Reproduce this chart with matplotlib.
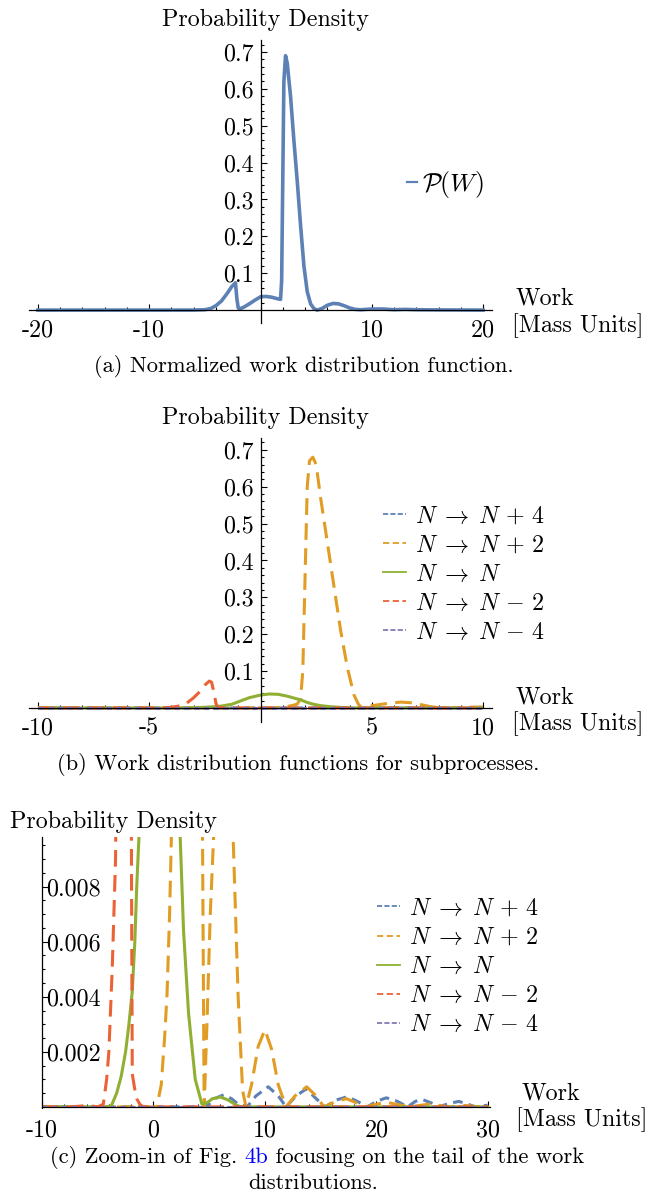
import matplotlib
matplotlib.use("Agg")
import matplotlib.pyplot as plt
from matplotlib.lines import Line2D
from matplotlib.patches import Rectangle

plt.rcParams['font.family'] = 'cmr10'
plt.rcParams['mathtext.fontset'] = 'cm'
plt.rcParams['axes.unicode_minus'] = False
plt.rcParams['lines.scale_dashes'] = False

# ---- data ----
# (a) total work distribution P(W)
w_tot = [-20, -6, -5, -4.5, -4, -3.5, -3, -2.6, -2.25, -2.12, -2.0, -1.8, -1.5, -1, -0.5, 0, 0.5,
         1, 1.5, 1.8, 1.9, 2.0, 2.1, 2.25, 2.4, 2.7, 3.0, 3.3, 3.6, 3.9, 4.2, 4.5, 4.8, 5.1,
         5.5, 6.0, 6.5, 7.0, 7.5, 8.0, 8.5, 9.0, 9.5, 10.0, 11.0, 12.0, 13.0, 14.0, 16.0, 18.0, 20.0]
p_tot = [0, 0, 0.001, 0.004, 0.012, 0.025, 0.045, 0.063, 0.074, 0.03, 0.006, 0.004, 0.008, 0.017,
         0.027, 0.036, 0.037, 0.035, 0.031, 0.029, 0.08, 0.35, 0.62, 0.69, 0.67, 0.58, 0.46, 0.35,
         0.23, 0.12, 0.05, 0.017, 0.004, 0.0, 0.004, 0.013, 0.018, 0.017, 0.012, 0.006, 0.002,
         0.001, 0.002, 0.003, 0.003, 0.001, 0.002, 0.001, 0.0005, 0.0003, 0]

# (b), (c) subprocesses
w_np4 = [-10, 4.6, 5.0, 5.5, 6.3, 7.0, 7.6, 8.4, 9.2, 10.3, 11.2, 11.9, 12.8, 13.7, 14.6, 15.4,
         16.4, 17.4, 18.3, 19.2, 20.0, 20.9, 21.9, 22.8, 23.5, 24.1, 24.9, 25.6, 26.5, 27.4,
         28.2, 28.9, 29.5, 30]
p_np4 = [0, 0, 0.0001, 0.0003, 0.00044, 0.0003, 0.0001, 0, 0.0004, 0.00073, 0.0004, 0, 0.0004,
         0.00065, 0.0003, 0, 0.00025, 0.00037, 0.0002, 0, 0.0002, 0.00033, 0.0002, 0, 0.0002,
         0.00027, 0.00015, 0, 0.00012, 0.0002, 0.0001, 0, 0.00004, 0.00006]

w_np2 = [-10, 0.3, 0.7, 1.0, 1.22, 1.45, 1.65, 1.8, 1.9, 2.0, 2.1, 2.2, 2.35, 2.5, 2.7, 3.0, 3.3,
         3.6, 3.9, 4.2, 4.4, 4.55, 4.8, 5.1, 5.4, 5.8, 6.3, 6.8, 7.15, 7.6, 8.0, 8.3, 8.8, 9.4,
         10.0, 10.6, 11.2, 11.9, 12.7, 13.75, 14.6, 15.3, 16.2, 17.3, 18.2, 19.0, 20.0, 21.0,
         22.0, 23.0, 24.0, 24.8, 25.7, 26.5, 27.3, 28.0, 28.8, 29.5, 30]
p_np2 = [0, 0, 0.0008, 0.0025, 0.0041, 0.007, 0.0105, 0.025, 0.1, 0.35, 0.6, 0.67, 0.68, 0.66,
         0.57, 0.45, 0.33, 0.21, 0.11, 0.035, 0.01, 0, 0.003, 0.007, 0.0098, 0.013, 0.016, 0.014,
         0.0098, 0.004, 0.0006, 0, 0.0008, 0.0022, 0.0028, 0.0021, 0.0008, 0, 0.0004, 0.00073,
         0.0004, 0, 0.00017, 0.0003, 0.00015, 0, 0.0001, 0.00016, 0.00008, 0, 0.00006, 0.0001,
         0.00005, 0, 0.00003, 0.00005, 0.00002, 0, 0]

w_n = [-10, -4.2, -3.8, -3.3, -2.9, -2.5, -2.2, -1.9, -1.67, -1.5, -1.3, -0.9, -0.5, 0, 0.4, 0.8,
       1.2, 1.5, 1.8, 2.1, 2.4, 2.7, 3.15, 3.75, 4.35, 4.8, 5.3, 6.0, 6.7, 7.5, 7.9, 10, 30]
p_n = [0, 0, 0.00002, 0.0005, 0.0011, 0.002, 0.003, 0.0042, 0.006, 0.008, 0.0098, 0.019, 0.028,
       0.035, 0.038, 0.037, 0.032, 0.027, 0.022, 0.015, 0.0098, 0.0064, 0.0034, 0.001, 0.0001,
       0.00015, 0.0003, 0.00036, 0.00025, 0.00005, 0, 0, 0]

w_nm2 = [-10, -7.5, -6.5, -6, -5.5, -5, -4.5, -4.2, -4.0, -3.7, -3.4, -3.0, -2.7, -2.5, -2.3,
         -2.2, -2.1, -2.0, -1.9, -1.7, -1.5, -1.2, -0.9, 30]
p_nm2 = [0, 0, 0.00003, 0.00005, 0.00003, 0, 0.0001, 0.001, 0.002, 0.005, 0.009, 0.028, 0.046,
         0.062, 0.073, 0.07, 0.045, 0.012, 0.0012, 0.0007, 0.0003, 0.00008, 0, 0]

w_nm4 = [-10, 30]
p_nm4 = [0, 0]

series = [
    (w_np4, p_np4, '#5E81B5', (0, (7, 4.5)), r'$N\;\rightarrow\;N\,+\,4$'),
    (w_np2, p_np2, '#E19C24', (0, (12, 6)), r'$N\;\rightarrow\;N\,+\,2$'),
    (w_n, p_n, '#8FB032', '-', r'$N\;\rightarrow\;N$'),
    (w_nm2, p_nm2, '#EB6235', (0, (12, 6)), r'$N\;\rightarrow\;N\,-\,2$'),
    (w_nm4, p_nm4, '#8778B3', (0, (4, 3)), r'$N\;\rightarrow\;N\,-\,4$'),
]
legend_dash = ['--', (0, (4.5, 2.5)), '-', (0, (4.5, 2.5)), '--']

FS = 17.3    # axis texts
CFS = 16.2   # captions

W, H = 652, 1192
fig = plt.figure(figsize=(6.52, 11.92), dpi=100)


def fx(px):
    return px / W


def fy(py):
    return 1 - py / H


def make_ax(left, right, top, bottom):
    return fig.add_axes([fx(left), fy(bottom), (right - left) / W, (bottom - top) / H])


def style(ax, x0, xmaj, xlab, xmin, ymaj, ylab, ymin, ypad=5):
    for s in ['top', 'right']:
        ax.spines[s].set_visible(False)
    ax.spines['bottom'].set_position(('data', 0))
    ax.spines['left'].set_position(('data', x0))
    for s in ['bottom', 'left']:
        ax.spines[s].set_linewidth(0.9)
    ax.set_xticks(xmaj, xlab)
    ax.set_xticks(xmin, minor=True)
    ax.set_yticks(ymaj, ylab)
    ax.set_yticks(ymin, minor=True)
    ax.tick_params(which='both', direction='in', width=0.8, color='black')
    ax.tick_params(which='major', length=4)
    ax.tick_params(which='minor', length=2)
    ax.tick_params(axis='x', pad=7, labelsize=FS)
    ax.tick_params(axis='y', pad=ypad, labelsize=FS)
    ax.patch.set_visible(False)


def frange(a, b, s):
    out = []
    v = a
    while v <= b + 1e-9:
        out.append(round(v, 6))
        v += s
    return out


# ---------- (a) ----------
ax1 = make_ax(29, 492, 40, 323)
ax1.plot(w_tot, p_tot, color='#5E81B5', lw=2.6, solid_joinstyle='round')
ax1.set_xlim(-20.8, 20.8)
ax1.set_ylim(-0.035, 0.7325)
style(ax1, 0, [-20, -10, 10, 20], ['-20', '-10', '10', '20'], frange(-20, 20, 2),
      [0.1, 0.2, 0.3, 0.4, 0.5, 0.6, 0.7], ['0.1', '0.2', '0.3', '0.4', '0.5', '0.6', '0.7'],
      frange(0.02, 0.72, 0.02))
ax1.legend([Line2D([], [], color='#5E81B5', lw=1.6)], [r'$\mathcal{P}(W)$'],
           loc='center left', bbox_to_anchor=(fx(407), fy(184)), bbox_transform=fig.transFigure,
           frameon=False, borderpad=0, borderaxespad=0, handlelength=0.4, handletextpad=0.2,
           fontsize=18.5)

# ---------- (b) ----------
ax2 = make_ax(29, 492, 438, 722)
for w, p, c, ls, lab in series:
    ln, = ax2.plot(w, p, color=c, lw=2.2, ls=ls)
    ln.set_clip_path(Rectangle((-10, -1), 20, 2, transform=ax2.transData))
ax2.set_xlim(-10.4, 10.4)
ax2.set_ylim(-0.038, 0.732)
style(ax2, 0, [-10, -5, 5, 10], ['-10', '-5', '5', '10'], frange(-10, 10, 1),
      [0.1, 0.2, 0.3, 0.4, 0.5, 0.6, 0.7], ['0.1', '0.2', '0.3', '0.4', '0.5', '0.6', '0.7'],
      frange(0.02, 0.72, 0.02))

handles = [Line2D([], [], color=s[2], lw=1.3, ls=d) for s, d in zip(series, legend_dash)]
labels = [s[4] for s in series]
ax2.legend(handles, labels, loc='center left', bbox_to_anchor=(fx(383), fy(574.5)),
           bbox_transform=fig.transFigure, frameon=False, borderpad=0, borderaxespad=0,
           handlelength=0.95, handletextpad=0.4, labelspacing=0.29, fontsize=FS)

# ---------- (c) ----------
ax3 = make_ax(42, 490, 837, 1108)
for w, p, c, ls, lab in series:
    ax3.plot(w, p, color=c, lw=2.2, ls=ls)
ax3.set_xlim(-10, 30.2)
ax3.set_ylim(-0.00004, 0.0098)
style(ax3, -10, [-10, 0, 10, 20, 30], ['-10', '0', '10', '20', '30'], frange(-10, 30, 2),
      [0.002, 0.004, 0.006, 0.008], ['0.002', '0.004', '0.006', '0.008'],
      frange(0.0005, 0.0095, 0.0005), ypad=-3)
ax3.tick_params(axis='x', pad=9)
plt.setp(ax3.get_yticklabels(), ha='left')
ax3.legend(handles, labels, loc='center left', bbox_to_anchor=(fx(377), fy(967)),
           bbox_transform=fig.transFigure, frameon=False, borderpad=0, borderaxespad=0,
           handlelength=0.95, handletextpad=0.4, labelspacing=0.29, fontsize=FS)

# ---------- texts ----------
for yy in [20, 418]:
    fig.text(fx(265), fy(yy), 'Probability Density', ha='center', va='center', fontsize=FS)
fig.text(fx(114), fy(822), 'Probability Density', ha='center', va='center', fontsize=FS)

for xw, yw, xm, ym in [(516, 298, 512, 326), (516, 697, 512, 724), (522, 1093, 516, 1120)]:
    fig.text(fx(xw), fy(yw), 'Work', ha='left', va='center', fontsize=FS)
    fig.text(fx(xm), fy(ym), '[Mass Units]', ha='left', va='center', fontsize=FS)

fig.text(fx(304), fy(366), '(a) Normalized work distribution function.', ha='center',
         va='center', fontsize=CFS)
fig.text(fx(298), fy(764), '(b) Work distribution functions for subprocesses.', ha='center',
         va='center', fontsize=CFS)

t1 = fig.text(fx(50), fy(1163), '(c) Zoom-in of Fig. ', ha='left', va='baseline', fontsize=CFS)
t2 = fig.text(0, 0, '4b', color='#0000FF', fontsize=CFS, va='baseline')
t3 = fig.text(0, 0, ' focusing on the tail of the work', fontsize=CFS, va='baseline')
fig.canvas.draw()
r = fig.canvas.get_renderer()
bb1 = t1.get_window_extent(r)
t2.set_position((bb1.x1 / fig.bbox.width, t1.get_position()[1]))
bb2 = t2.get_window_extent(r)
t3.set_position((bb2.x1 / fig.bbox.width, t1.get_position()[1]))
fig.text(fx(313), fy(1183), 'distributions.', ha='center', va='center', fontsize=CFS)

fig.savefig('out.png', dpi=100)
